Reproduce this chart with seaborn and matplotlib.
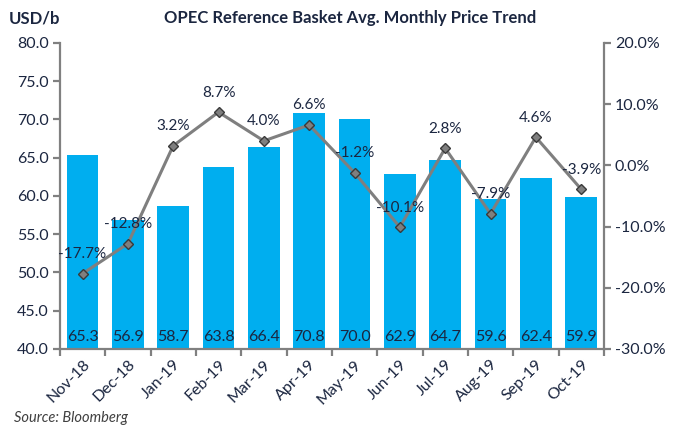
import matplotlib
matplotlib.use("Agg")
import matplotlib.pyplot as plt
import seaborn as sns
import pandas as pd
from matplotlib.ticker import FixedLocator, FuncFormatter

months = ["Nov-18", "Dec-18", "Jan-19", "Feb-19", "Mar-19", "Apr-19",
          "May-19", "Jun-19", "Jul-19", "Aug-19", "Sep-19", "Oct-19"]
price = [65.3, 56.9, 58.7, 63.8, 66.4, 70.8, 70.0, 62.9, 64.7, 59.6, 62.4, 59.9]
change_pct = [-17.7, -12.8, 3.2, 8.7, 4.0, 6.6, -1.2, -10.1, 2.8, -7.9, 4.6, -3.9]

df = pd.DataFrame({"month": months, "price": price, "pct": change_pct})

sns.set_theme(style="white")
plt.rcParams['font.family'] = ['Lato', 'DejaVu Sans']

TXT = "#1B2640"
AX = "#808080"
BAR = "#00AEEF"

fig = plt.figure(figsize=(6.8, 4.34), dpi=100)
ax = fig.add_axes([0.088, 0.196, 0.800, 0.705])

sns.barplot(data=df, x="month", y="price", ax=ax, color=BAR, width=0.7,
            saturation=1, edgecolor="none")
ax.set_ylim(40, 80)
ax.set_xlim(-0.5, 11.5)
ax.set_yticks([40, 45, 50, 55, 60, 65, 70, 75, 80])
ax.yaxis.set_major_formatter(FuncFormatter(lambda v, p: f"{v:.1f}"))
ax.set_xlabel("")
ax.set_ylabel("")

for i, v in enumerate(price):
    ax.text(i, 40.7, f"{v:.1f}", ha="center", va="bottom", color=TXT, fontsize=11.5)

ax2 = ax.twinx()
sns.pointplot(data=df, x="month", y="pct", ax=ax2, color="#7F7F7F",
              markers="D", linewidth=2.2, markersize=5.5,
              markeredgecolor="#3A3A3A", markeredgewidth=1.0)
ax2.set_ylim(-30, 20)
ax2.set_xlim(-0.5, 11.5)
ax2.set_yticks([-30, -20, -10, 0, 10, 20])
ax2.yaxis.set_major_formatter(FuncFormatter(lambda v, p: f"{v:.1f}%"))
ax2.set_ylabel("")
ax2.set_xlabel("")

for i, v in enumerate(change_pct):
    ax2.annotate(f"{v:.1f}%", (i, v), xytext=(0, 9), textcoords="offset points",
                 ha="center", va="bottom", color=TXT, fontsize=11)

for a in (ax, ax2):
    for s in a.spines.values():
        s.set_visible(False)
ax.spines["left"].set_visible(True)
ax.spines["bottom"].set_visible(True)
ax2.spines["right"].set_visible(True)
for s in (ax.spines["left"], ax.spines["bottom"], ax2.spines["right"]):
    s.set_color(AX)
    s.set_linewidth(1.6)

ax.tick_params(axis="y", which="major", direction="out", length=5, width=1.6,
               color=AX, labelcolor=TXT, labelsize=11.5, left=True, pad=3)
ax2.tick_params(axis="y", which="major", direction="out", length=5, width=1.6,
                color=AX, labelcolor=TXT, labelsize=11.5, right=True, pad=3)
ax.xaxis.set_minor_locator(FixedLocator([x - 0.5 for x in range(13)]))
ax.tick_params(axis="x", which="major", length=0, labelcolor=TXT, labelsize=11.5, pad=6)
ax.tick_params(axis="x", which="minor", direction="out", length=5, width=1.6,
               color=AX, bottom=True)
plt.setp(ax.get_xticklabels(), rotation=45, ha="right", rotation_mode="anchor")
ax2.tick_params(axis="x", which="both", length=0, labelbottom=False)

fig.text(0.515, 0.958, "OPEC Reference Basket Avg. Monthly Price Trend",
         ha="center", va="center", fontsize=12, fontweight="bold", color=TXT)
fig.text(0.013, 0.958, "USD/b", ha="left", va="center", fontsize=12,
         fontweight="bold", color=TXT)
fig.text(0.02, 0.038, "Source: Bloomberg", ha="left", va="center", fontsize=10.5,
         style="italic", color="#404040")

fig.savefig("out.png", dpi=100)
